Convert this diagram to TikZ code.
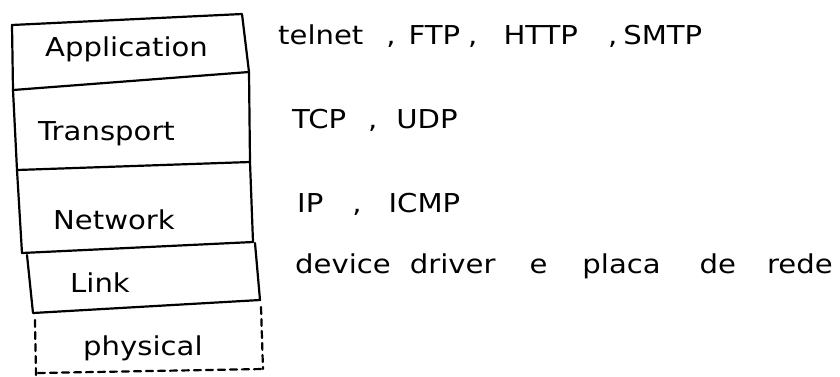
\documentclass[tikz,border=0pt]{standalone}
\usepackage{fontspec}
\setmainfont[FakeStretch=1.12]{DejaVu Sans}
\begin{document}
\begin{tikzpicture}[x=1pt,y=-1pt,
  edge/.style={line width=2.2pt, line cap=round, line join=round},
  dashededge/.style={edge, dash pattern=on 7pt off 5pt},
  layer/.style={font=\fontsize{26}{30}\selectfont, anchor=base west, inner sep=0pt},
  proto/.style={layer}]
\useasboundingbox (0,0) rectangle (840,376);

% corners of the hand-drawn protocol stack
\coordinate (a1) at (12,25);  \coordinate (a2) at (242,14);
\coordinate (b1) at (13,90);  \coordinate (b2) at (249,72);
\coordinate (c1) at (17,170); \coordinate (c2) at (250,162);
\coordinate (d1) at (22,253); \coordinate (d2) at (253,242);
\coordinate (e1) at (27,255); \coordinate (e2) at (255,243);
\coordinate (f1) at (33,313); \coordinate (f2) at (260,300);
\coordinate (g1) at (35,320); \coordinate (g2) at (261,307);
\coordinate (h1) at (36,376); \coordinate (h2) at (263,369);
\coordinate (h0) at (38,373);

% solid layers: application, transport, network
\draw[edge] (a1) -- (a2) -- (b2) -- (c2) -- (d2);
\draw[edge] (a1) -- (b1) -- (c1) -- (d1);
\draw[edge] (b1) -- (b2);
\draw[edge] (c1) -- (c2);
\draw[edge] (d1) -- (d2);
% link layer
\draw[edge] (e1) -- (f1) -- (f2) -- (e2);
% physical layer, dashed
\draw[dashededge] (g1) -- (h1);
\draw[dashededge] (g2) -- (h2);
\draw[dashededge] (h0) -- (h2);

% layer names
\node[layer] (app)   at (45,56)  {Application};
\node[layer] (trans) at (38,140) {Transport};
\node[layer] (net)   at (53,229) {Network};
\node[layer] (lnk)   at (70,292) {Link};
\node[layer] (phys)  at (83,355) {physical};

% protocols of each layer
\node[proto] (appproto) at (278,44)
  {telnet\hspace{23pt},\hspace{13pt}FTP\hspace{8pt},\hspace{26pt}HTTP\hspace{30pt},\hspace{6pt}SMTP};
\node[proto] (transproto) at (292,128) {TCP\hspace{22pt},\hspace{19pt}UDP};
\node[proto] (netproto) at (297,212) {IP\hspace{29pt},\hspace{27pt}ICMP};
\node[proto] (linkproto) at (295,273)
  {device\hspace{19pt}driver\hspace{34pt}e\hspace{35pt}placa\hspace{39pt}de\hspace{31pt}rede};
\end{tikzpicture}
\end{document}
